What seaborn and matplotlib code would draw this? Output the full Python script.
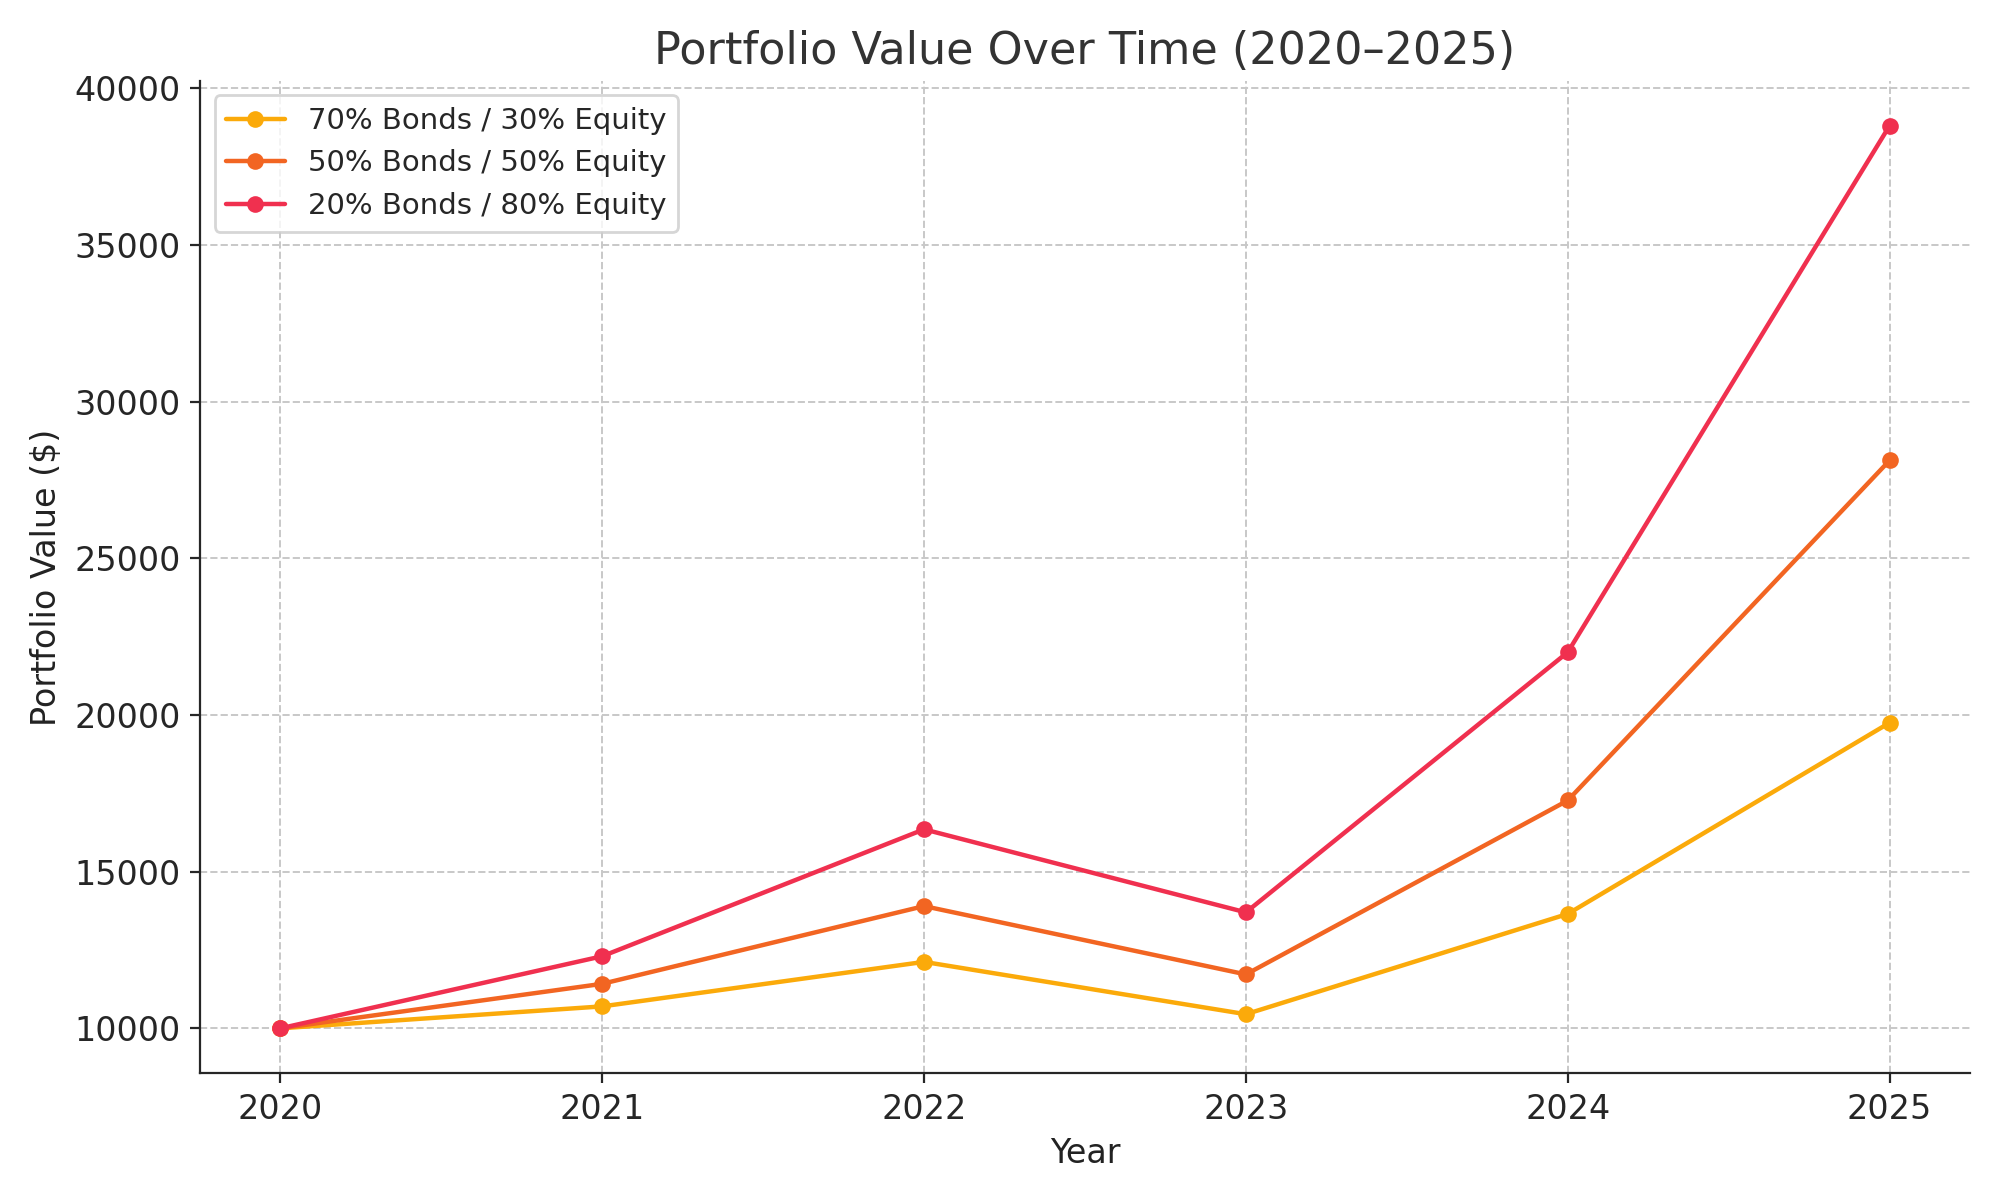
import matplotlib
matplotlib.use("Agg")
import matplotlib.pyplot as plt
import seaborn as sns
import pandas as pd

# === Data ===
years = [2020, 2021, 2022, 2023, 2024, 2025]
bonds70 = [10000, 10700, 12120, 10450, 13650, 19750]
bonds50 = [10000, 11420, 13900, 11720, 17270, 28120]
bonds20 = [10000, 12300, 16350, 13700, 22000, 38800]
labels = ["70% Bonds / 30% Equity", "50% Bonds / 50% Equity", "20% Bonds / 80% Equity"]
colors = ["#FBAA0A", "#F26522", "#F0304F"]

df = pd.DataFrame({"Year": years, labels[0]: bonds70, labels[1]: bonds50, labels[2]: bonds20})
long = df.melt(id_vars="Year", var_name="Portfolio", value_name="Value")

sns.set_style("ticks")
plt.rcParams["font.family"] = ["DejaVu Sans"]

fig, ax = plt.subplots(figsize=(10, 6), dpi=200)
sns.lineplot(data=long, x="Year", y="Value", hue="Portfolio", palette=colors,
             marker="o", markersize=6, markeredgewidth=0, linewidth=1.6, ax=ax)

ax.set_title("Portfolio Value Over Time (2020–2025)", fontsize=16, color="#333333")
ax.set_xlabel("Year", fontsize=12, color="#222222")
ax.set_ylabel("Portfolio Value ($)", fontsize=12, color="#222222")
ax.set_xticks(years)
ax.set_yticks(range(10000, 40001, 5000))
ax.tick_params(labelsize=12)
ax.grid(True, linestyle="--", color="#c8c8c8", linewidth=0.7)
sns.despine(ax=ax)
ax.legend(title=None, loc="upper left", fontsize=10.5, frameon=True)

plt.tight_layout()
plt.savefig("out.png", dpi=200)
